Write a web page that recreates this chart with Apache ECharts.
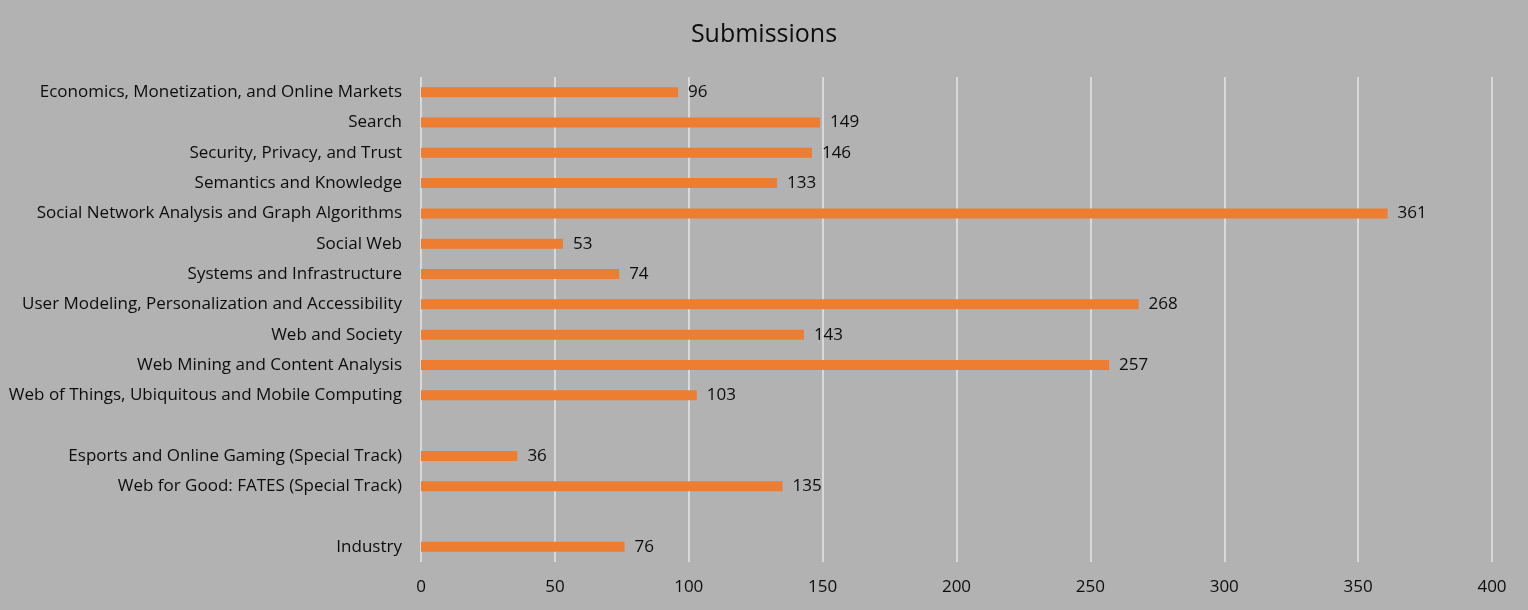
<!DOCTYPE html>
<html>
<head>
<meta charset="utf-8">
<script src="https://cdn.jsdelivr.net/npm/echarts@6/dist/echarts.min.js"></script>
<style>
  html, body { margin: 0; padding: 0; background: #b2b2b2; }
  #chart { width: 1528px; height: 610px; }
</style>
</head>
<body>
<div id="chart"></div>
<script>
// top-to-bottom order, blank rows are gaps between track groups
const categories = [
  'Economics, Monetization, and Online Markets',
  'Search',
  'Security, Privacy, and Trust',
  'Semantics and Knowledge',
  'Social Network Analysis and Graph Algorithms',
  'Social Web',
  'Systems and Infrastructure',
  'User Modeling, Personalization and Accessibility',
  'Web and Society',
  'Web Mining and Content Analysis',
  'Web of Things, Ubiquitous and Mobile Computing',
  '',
  'Esports and Online Gaming (Special Track)',
  'Web for Good: FATES (Special Track)',
  ' ',
  'Industry'
];
const submissions = [96, 149, 146, 133, 361, 53, 74, 268, 143, 257, 103, null, 36, 135, null, 76];
const xTicks = { min: 0, max: 400, interval: 50 };

const font = '"Open Sans", "Noto Sans", sans-serif';
const myChart = echarts.init(document.getElementById('chart'));

myChart.setOption({
    backgroundColor: '#b2b2b2',
    animation: false,
    title: {
        text: 'Submissions',
        left: 'center',
        top: 17,
        textStyle: { fontFamily: font, fontSize: 25, fontWeight: 'normal', color: '#0d0d0d' }
    },
    grid: { left: 421, right: 36, top: 77, bottom: 48 },
    xAxis: {
        type: 'value',
        min: xTicks.min,
        max: xTicks.max,
        interval: xTicks.interval,
        axisLine: { show: false },
        axisTick: { show: false },
        splitLine: { lineStyle: { color: '#d9d9d9', width: 2 } },
        axisLabel: { fontFamily: font, fontSize: 17, color: '#0d0d0d', margin: 17 }
    },
    yAxis: {
        type: 'category',
        inverse: true,
        data: categories,
        axisLine: { show: false },
        axisTick: { show: false },
        axisLabel: { fontFamily: font, fontSize: 17, color: '#0d0d0d', margin: 19 }
    },
    series: [{
        type: 'bar',
        data: submissions,
        barWidth: 10,
        itemStyle: { color: '#ed7d31' },
        label: {
            show: true,
            position: 'right',
            distance: 10,
            fontFamily: font,
            fontSize: 17,
            color: '#0d0d0d',
            formatter: p => (p.value == null ? '' : p.value)
        }
    }]
});
</script>
</body>
</html>
